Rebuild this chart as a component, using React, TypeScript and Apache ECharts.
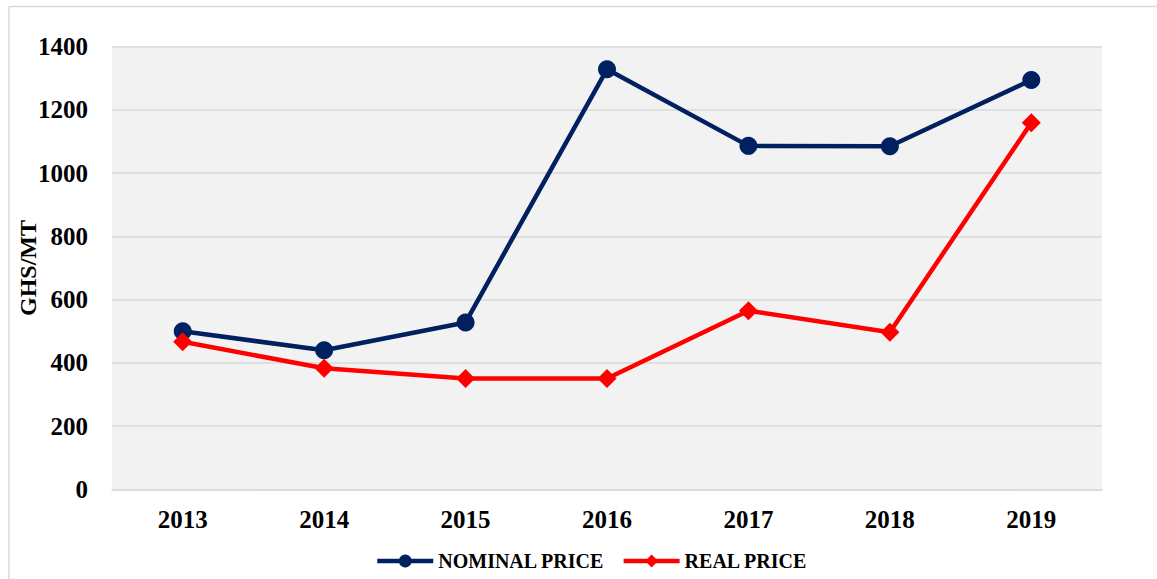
import React, { useEffect, useRef } from "react";
import * as echarts from "echarts";

const years = ["2013", "2014", "2015", "2016", "2017", "2018", "2019"];
const nominalPrice = [500, 440, 528, 1328, 1086, 1085, 1294];
const realPrice = [467, 383, 351, 351, 565, 497, 1159];
const yTicks = { min: 0, max: 1400, interval: 200 };

const FONT = "'Liberation Serif', 'DejaVu Serif', serif";

export default function App() {
  const ref = useRef<HTMLDivElement>(null);
  useEffect(() => {
    if (!ref.current) return;
    const chart = echarts.init(ref.current, null, { renderer: "svg" });
    chart.setOption({
      animation: false,
      backgroundColor: "#ffffff",
      graphic: [
        { type: "line", shape: { x1: 9, y1: 6.5, x2: 1157, y2: 6.5 }, style: { stroke: "#d9d9d9", lineWidth: 1.5 } },
        { type: "line", shape: { x1: 9, y1: 6.5, x2: 9, y2: 579 }, style: { stroke: "#d9d9d9", lineWidth: 1.5 } },
      ],
      grid: {
        left: 112,
        right: 55,
        top: 46.5,
        bottom: 89.5,
        show: true,
        backgroundColor: "#f2f2f2",
        borderWidth: 0,
        containLabel: false,
      },
      legend: {
        left: 370,
        top: 546,
        itemWidth: 56,
        itemHeight: 16,
        itemGap: 17,
        lineStyle: { width: 4.5 },
        textStyle: { fontFamily: FONT, fontWeight: "bold", fontSize: 20, color: "#000" },
        data: ["NOMINAL PRICE", "REAL PRICE"],
      },
      xAxis: {
        type: "category",
        data: years,
        boundaryGap: true,
        axisLine: { show: true, lineStyle: { color: "#d9d9d9", width: 1.5 } },
        axisTick: { show: false },
        axisLabel: { fontFamily: FONT, fontWeight: "bold", fontSize: 25, color: "#000", margin: 17 },
      },
      yAxis: {
        type: "value",
        min: yTicks.min,
        max: yTicks.max,
        interval: yTicks.interval,
        name: "GHS/MT",
        nameLocation: "middle",
        nameRotate: 90,
        nameGap: 72,
        nameMoveOverlap: false,
        nameTextStyle: { fontFamily: FONT, fontWeight: "bold", fontSize: 24, color: "#000" },
        axisLine: { show: false },
        axisTick: { show: false },
        splitLine: { show: true, lineStyle: { color: "#d9d9d9", width: 1.5 } },
        axisLabel: {
          fontFamily: FONT,
          fontWeight: "bold",
          fontSize: 25,
          color: "#000",
          margin: 24,
          formatter: (v: number) => String(v),
        },
      },
      series: [
        {
          name: "NOMINAL PRICE",
          type: "line",
          data: nominalPrice,
          symbol: "circle",
          symbolSize: 18,
          lineStyle: { color: "#002060", width: 4.5 },
          itemStyle: { color: "#002060" },
          z: 2,
        },
        {
          name: "REAL PRICE",
          type: "line",
          data: realPrice,
          symbol: "diamond",
          symbolSize: 19,
          lineStyle: { color: "#ff0000", width: 4.5 },
          itemStyle: { color: "#ff0000" },
          z: 3,
        },
      ],
    });
    return () => chart.dispose();
  }, []);
  return (
    <div
      ref={ref}
      style={{ position: "absolute", left: 0, top: 0, width: 1157, height: 579 }}
    />
  );
}
